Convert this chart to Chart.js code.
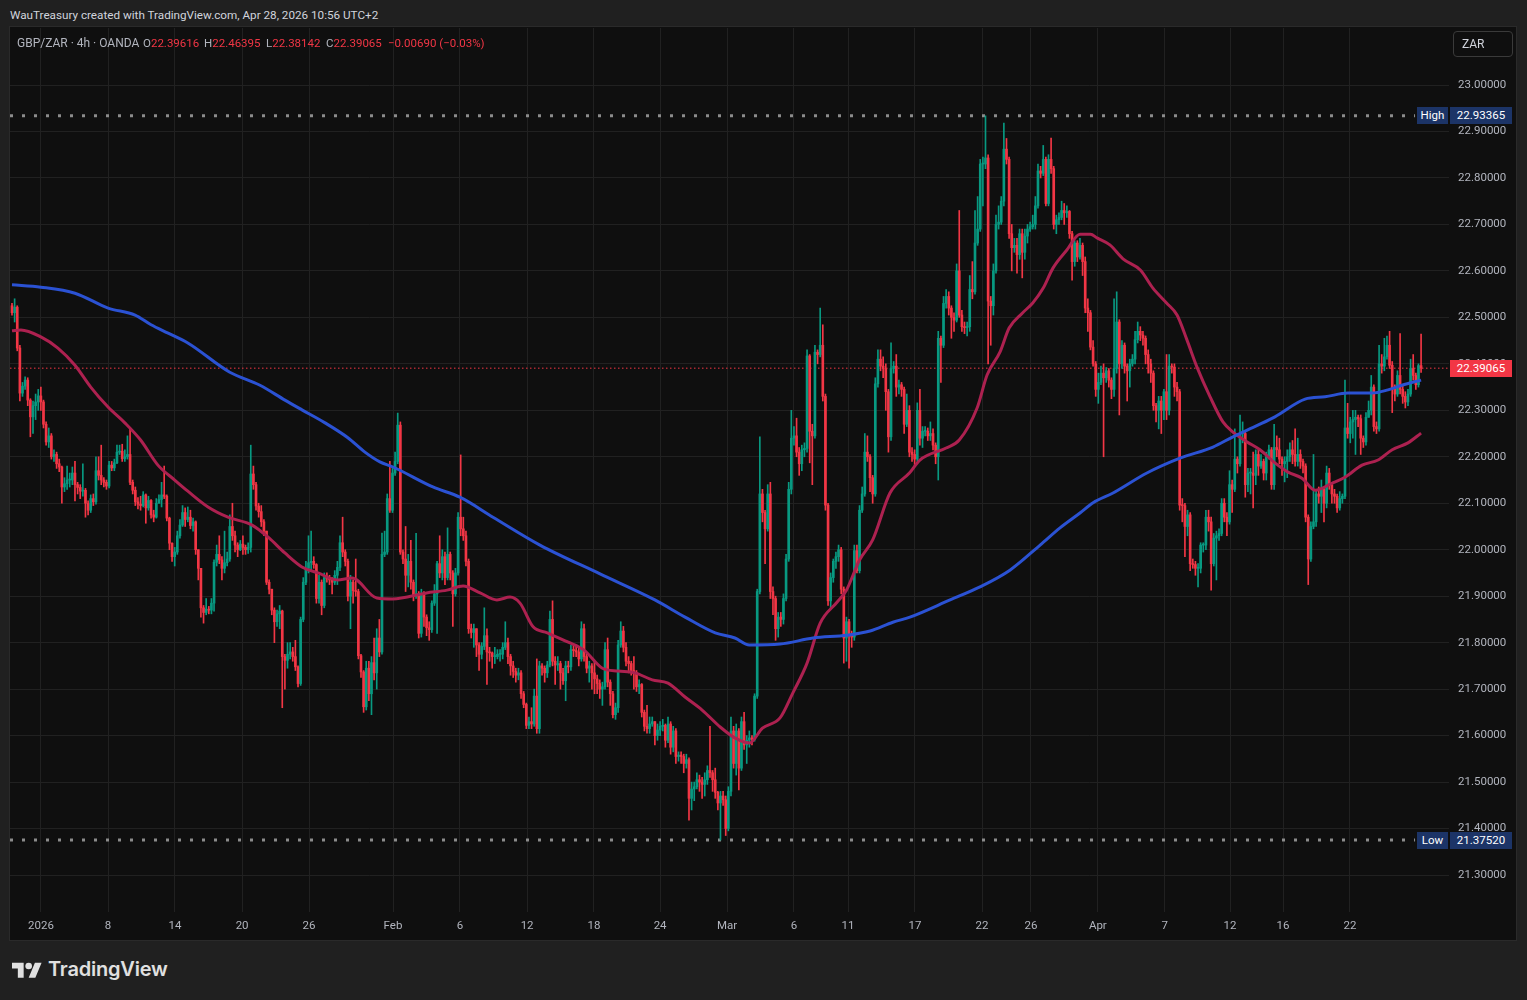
<!DOCTYPE html>
<html>
<head>
<meta charset="utf-8">
<title>GBP/ZAR 4h</title>
<script src="https://cdn.jsdelivr.net/npm/chart.js@4.4.1/dist/chart.umd.min.js"></script>
<style>
  html, body { margin: 0; padding: 0; }
  body { width: 1527px; height: 1000px; background: #202020; position: relative; overflow: hidden;
         font-family: Roboto, "Noto Sans", sans-serif; }
  #credit { position: absolute; left: 10px; top: 7px; font-size: 11.7px; line-height: 16px; color: #d1d4dc; white-space: nowrap; }
  #panel { position: absolute; left: 10px; top: 27px; width: 1506px; height: 913px; background: #0f0f0f; box-shadow: 0 0 0 1px #2a2a2a; }
  #chart { position: absolute; left: 0; top: 0; }
  .lg { position: absolute; top: 8px; font-size: 11.5px; line-height: 16px; color: #b2b5be; white-space: nowrap; }
  .lg span { color: #f23645; }
  #zar { position: absolute; left: 1443px; top: 4px; width: 60px; height: 26px; box-sizing: border-box;
         border: 1px solid #3a3a3a; border-radius: 4px; color: #d1d4dc; font-size: 12px; line-height: 24px; padding-left: 8px; }
  .tag { position: absolute; height: 17px; line-height: 17px; font-size: 11.5px; color: #ffffff; text-align: center; }
  .blue { background: #1c3467; }
  .red { background: #f23645; }
  #logo { position: absolute; left: 12px; top: 959px; }
  #brand { position: absolute; left: 48px; top: 957px; font-family: Inter, sans-serif; font-weight: 600; font-size: 20px;
           line-height: 24px; color: #e0e0e0; letter-spacing: -0.2px; }
</style>
</head>
<body>
<div id="credit">WauTreasury created with TradingView.com, Apr 28, 2026 10:56 UTC+2</div>
<div id="panel">
  <canvas id="chart" width="1506" height="913"></canvas>
  <div class="lg" style="left:7px;font-size:12px">GBP/ZAR · 4h · OANDA</div>
  <div class="lg" style="left:133px">O<span>22.39616</span></div>
  <div class="lg" style="left:194px">H<span>22.46395</span></div>
  <div class="lg" style="left:256px">L<span>22.38142</span></div>
  <div class="lg" style="left:316px">C<span>22.39065</span></div>
  <div class="lg" style="left:378px"><span>−0.00690 (−0.03%)</span></div>
  <div id="zar">ZAR</div>
  <div class="tag blue" id="hiName" style="left:1407px;width:31px">High</div>
  <div class="tag blue" id="hiVal" style="left:1440px;width:62px"></div>
  <div class="tag blue" id="loName" style="left:1407px;width:31px">Low</div>
  <div class="tag blue" id="loVal" style="left:1440px;width:62px"></div>
  <div class="tag red" id="lastVal" style="left:1440px;width:62px"></div>
</div>
<svg id="logo" width="30" height="24" viewBox="0 0 36 28"><path fill="#e0e0e0" d="M14 22H7V11H0V4h14v18zM28 22h-8l7.5-18h8L28 22z"/><circle fill="#e0e0e0" cx="20" cy="8" r="4"/></svg>
<div id="brand">TradingView</div>

<script>
// 4h candles, Dec 31 2025 -> Apr 28 2026
var firstOpen = 22.525;
var closes = [
22.510,22.522,22.434,22.337,22.352,22.365,22.322,22.286,22.310,22.318,
22.331,22.318,22.270,22.232,22.245,22.200,22.205,22.185,22.178,22.135,22.142,
22.150,22.150,22.165,22.140,22.134,22.126,22.128,22.100,22.085,22.110,
22.103,22.170,22.160,22.150,22.145,22.137,22.182,22.176,22.187,22.210,
22.212,22.196,22.200,22.205,22.145,22.128,22.103,22.098,22.095,22.118,22.090,
22.106,22.075,22.070,22.100,22.108,22.118,22.115,22.068,22.014,21.985,
21.995,22.030,22.053,22.080,22.065,22.070,22.052,22.060,22.000,21.960,
21.875,21.865,21.872,21.870,21.885,21.973,21.990,21.978,21.960,21.972,21.980,
22.050,22.030,22.010,22.000,22.012,22.005,22.000,22.005,22.163,22.140,22.094,
22.082,22.060,22.040,21.930,21.915,21.870,21.845,21.862,21.868,21.770,
21.762,21.775,21.780,21.770,21.748,21.712,21.850,21.930,21.960,21.972,21.975,
21.968,21.895,21.930,21.880,21.940,21.938,21.935,21.930,21.945,21.962,22.015,
21.995,21.975,21.900,21.930,21.912,21.910,21.772,21.737,21.662,21.745,
21.690,21.757,21.735,21.810,21.780,21.990,21.995,22.110,22.085,22.165,
22.190,22.268,21.995,21.980,21.945,21.975,21.930,21.900,
21.905,21.820,21.905,21.855,21.832,21.828,21.885,21.905,21.970,
21.950,21.985,21.940,21.990,21.950,21.905,21.950,22.070,22.045,22.030,
21.975,21.830,21.822,21.830,21.795,21.775,21.792,21.815,21.780,21.778,
21.770,21.770,21.775,21.775,21.790,21.800,21.770,21.750,21.738,21.730,
21.735,21.690,21.667,21.622,21.630,21.625,21.685,21.615,21.750,21.745,
21.735,21.752,21.850,21.760,21.752,21.755,21.735,21.718,21.750,21.748,
21.785,21.783,21.780,21.765,21.830,21.770,21.745,21.750,21.735,21.722,
21.712,21.700,21.705,21.785,21.715,21.690,21.645,21.660,21.795,21.825,
21.790,21.760,21.755,21.740,21.735,21.705,21.710,21.650,21.620,21.615,
21.625,21.630,21.600,21.612,21.620,21.622,21.590,21.625,21.575,21.610,
21.555,21.558,21.555,21.540,21.548,21.465,21.485,21.490,21.505,21.500,
21.495,21.505,21.525,21.520,21.505,21.478,21.455,21.470,21.462,21.400,
21.480,21.610,21.540,21.610,21.530,21.630,21.580,21.590,21.595,21.592,
21.685,21.910,22.120,22.080,22.045,22.120,21.910,21.895,21.830,21.855,
21.850,21.895,21.980,22.130,22.240,22.245,22.210,22.185,22.215,22.218,
22.417,22.255,22.245,22.425,22.420,22.440,22.330,22.096,21.890,21.940,
21.975,21.985,22.000,21.915,21.810,21.845,21.815,21.812,21.998,21.955,
22.085,22.120,22.210,22.200,22.155,22.120,22.357,22.410,22.395,22.390,
22.340,22.243,22.390,22.395,22.350,22.355,22.345,22.270,22.300,22.210,
22.205,22.195,22.300,22.240,22.255,22.255,22.245,22.250,22.225,22.200,22.455,
22.440,22.530,22.545,22.520,22.500,22.494,22.600,22.505,22.480,22.478,
22.480,22.560,22.555,22.660,22.690,22.830,22.830,22.843,22.535,22.525,
22.600,22.700,22.705,22.750,22.862,22.840,22.680,22.650,22.655,22.635,
22.680,22.640,22.675,22.690,22.695,22.700,22.740,22.815,22.810,22.840,
22.745,22.840,22.820,22.700,22.710,22.715,22.730,22.725,22.728,22.680,
22.620,22.660,22.630,22.655,22.620,22.520,22.510,22.436,22.400,22.345,
22.360,22.380,22.370,22.385,22.365,22.345,22.390,22.490,22.400,
22.440,22.395,22.385,22.400,22.410,22.452,22.470,22.462,22.455,
22.420,22.400,22.380,22.310,22.300,22.320,22.300,22.340,22.300,
22.395,22.393,22.350,22.340,22.096,22.095,22.050,22.075,21.970,21.968,
21.960,21.960,22.010,22.010,22.070,22.060,21.970,22.025,22.030,22.035,
22.100,22.070,22.060,22.140,22.130,22.195,22.185,22.250,22.250,22.140,
22.165,22.165,22.160,22.205,22.180,22.190,22.165,22.200,22.215,
22.140,22.220,22.215,22.195,22.185,22.190,22.200,22.215,22.205,22.190,
22.205,22.190,22.180,22.070,21.980,22.050,22.060,22.120,22.115,22.130,
22.100,22.165,22.140,22.120,22.115,22.090,22.110,22.115,22.262,22.250,
22.275,22.280,22.285,22.282,22.240,22.232,22.285,22.300,22.350,22.265,
22.260,22.400,22.395,22.415,22.440,22.397,22.345,22.335,22.375,22.345,
22.330,22.318,22.335,22.390,22.375,22.355,22.39616,22.39065
];
var highs = [
22.530,22.540,22.525,22.440,22.360,22.372,22.370,22.325,22.320,22.335,
22.345,22.350,22.322,22.275,22.262,22.250,22.215,22.210,22.195,22.180,22.155,
22.180,22.165,22.178,22.190,22.145,22.140,22.185,22.132,22.105,22.118,
22.120,22.200,22.200,22.225,22.155,22.150,22.190,22.190,22.195,22.225,
22.225,22.227,22.215,22.245,22.260,22.150,22.135,22.112,22.115,22.125,22.120,
22.115,22.108,22.085,22.110,22.118,22.145,22.180,22.118,22.070,22.015,
22.005,22.040,22.065,22.095,22.090,22.092,22.085,22.068,22.062,22.000,
21.960,21.880,21.895,21.878,21.895,21.978,22.010,22.030,21.985,22.040,21.995,
22.075,22.100,22.040,22.015,22.020,22.030,22.010,22.015,22.225,22.180,22.145,
22.100,22.095,22.065,22.040,21.935,21.915,21.875,21.870,21.880,21.870,
21.775,21.800,21.800,21.790,21.805,21.750,21.855,21.940,21.975,22.030,22.040,
21.985,21.970,21.945,21.935,21.950,21.950,21.945,21.940,21.955,21.975,22.030,
22.070,22.000,21.980,21.945,21.935,21.980,21.915,21.775,21.740,21.760,
21.760,21.770,21.810,21.830,21.850,22.036,22.040,22.120,22.190,22.175,
22.210,22.294,22.275,22.000,22.050,21.990,22.020,21.935,
22.035,21.910,21.915,21.910,21.860,21.845,21.890,21.925,21.975,
22.030,22.000,21.995,22.047,21.995,21.955,21.960,22.080,22.204,22.070,
22.040,21.980,21.840,21.840,21.830,21.800,21.800,21.875,21.830,21.790,
21.780,21.790,21.785,21.785,21.800,21.845,21.810,21.775,21.760,21.745,
21.745,21.740,21.695,21.670,21.640,21.660,21.700,21.765,21.760,21.755,
21.750,21.760,21.868,21.890,21.770,21.770,21.760,21.745,21.760,21.760,
21.795,21.795,21.792,21.790,21.845,21.840,21.775,21.760,21.755,21.760,
21.730,21.720,21.715,21.800,21.810,21.720,21.695,21.670,21.805,21.845,
21.835,21.800,21.770,21.760,21.770,21.740,21.720,21.712,21.655,21.665,
21.640,21.640,21.630,21.625,21.630,21.635,21.625,21.640,21.630,21.620,
21.615,21.565,21.565,21.560,21.560,21.552,21.500,21.500,21.520,21.515,
21.510,21.520,21.535,21.620,21.525,21.530,21.480,21.480,21.480,21.470,
21.490,21.640,21.620,21.625,21.615,21.640,21.650,21.600,21.610,21.600,
21.690,21.915,22.243,22.130,22.085,22.140,22.145,21.920,21.900,21.865,
21.865,21.905,21.990,22.145,22.300,22.265,22.283,22.220,22.225,22.230,
22.430,22.420,22.270,22.440,22.430,22.520,22.484,22.335,22.100,21.950,
21.980,21.995,22.010,22.005,21.920,21.855,21.850,21.825,22.010,22.010,
22.095,22.135,22.250,22.245,22.205,22.160,22.370,22.430,22.430,22.415,
22.400,22.345,22.445,22.405,22.420,22.365,22.360,22.350,22.335,22.310,
22.220,22.215,22.316,22.345,22.265,22.265,22.262,22.275,22.260,22.230,22.470,
22.460,22.545,22.560,22.555,22.525,22.510,22.615,22.730,22.515,22.490,
22.490,22.590,22.620,22.730,22.760,22.840,22.845,22.93365,22.850,22.545,
22.615,22.720,22.740,22.760,22.918,22.885,22.845,22.700,22.670,22.670,
22.690,22.690,22.690,22.700,22.705,22.720,22.760,22.830,22.825,22.870,
22.845,22.850,22.886,22.825,22.720,22.725,22.750,22.745,22.740,22.730,
22.685,22.665,22.665,22.670,22.660,22.630,22.540,22.515,22.450,22.405,
22.380,22.395,22.400,22.392,22.390,22.370,22.540,22.555,22.495,
22.450,22.445,22.400,22.410,22.420,22.470,22.490,22.480,22.470,
22.460,22.430,22.410,22.385,22.315,22.330,22.330,22.345,22.420,
22.420,22.400,22.400,22.360,22.345,22.110,22.100,22.085,22.080,21.980,
21.975,21.970,22.015,22.015,22.085,22.085,22.070,22.035,22.040,22.045,
22.110,22.110,22.080,22.170,22.150,22.260,22.200,22.290,22.275,22.255,
22.175,22.175,22.210,22.215,22.215,22.205,22.195,22.210,22.225,
22.220,22.270,22.245,22.240,22.200,22.200,22.215,22.230,22.235,22.260,
22.240,22.215,22.195,22.185,22.075,22.060,22.205,22.130,22.135,22.150,
22.135,22.180,22.175,22.145,22.130,22.120,22.125,22.120,22.365,22.315,
22.285,22.300,22.300,22.290,22.290,22.245,22.295,22.320,22.375,22.355,
22.275,22.440,22.420,22.455,22.460,22.470,22.405,22.355,22.385,22.465,
22.355,22.340,22.345,22.410,22.420,22.380,22.400,22.46395
];
var lows = [
22.505,22.490,22.428,22.320,22.330,22.345,22.310,22.243,22.250,22.280,
22.300,22.300,22.262,22.225,22.220,22.195,22.190,22.175,22.168,22.100,22.125,
22.130,22.135,22.140,22.105,22.120,22.110,22.115,22.070,22.075,22.080,
22.095,22.098,22.150,22.140,22.135,22.130,22.133,22.170,22.170,22.185,
22.205,22.190,22.190,22.195,22.140,22.120,22.095,22.088,22.085,22.092,22.057,
22.085,22.068,22.060,22.068,22.100,22.092,22.110,22.062,22.000,21.975,
21.965,21.990,22.025,22.050,22.050,22.060,22.045,22.040,21.990,21.935,
21.855,21.842,21.860,21.862,21.862,21.868,21.965,21.970,21.935,21.950,21.965,
21.975,22.020,21.995,21.985,21.998,21.990,21.990,21.992,21.995,22.130,22.085,
22.070,22.050,22.030,21.925,21.905,21.860,21.800,21.835,21.830,21.660,
21.700,21.745,21.765,21.760,21.740,21.705,21.708,21.845,21.925,21.950,21.955,
21.960,21.885,21.885,21.860,21.875,21.930,21.925,21.905,21.925,21.925,21.955,
21.985,21.965,21.890,21.830,21.885,21.900,21.765,21.725,21.650,21.655,
21.675,21.645,21.720,21.700,21.770,21.775,21.985,21.990,22.080,22.080,
22.160,22.185,21.990,21.970,21.910,21.920,21.915,21.890,
21.895,21.810,21.812,21.835,21.815,21.805,21.822,21.880,21.820,
21.940,21.935,21.925,21.935,21.935,21.835,21.900,21.945,22.030,22.020,
21.965,21.820,21.810,21.790,21.770,21.740,21.765,21.785,21.710,21.760,
21.745,21.755,21.765,21.760,21.765,21.785,21.755,21.730,21.725,21.715,
21.720,21.680,21.660,21.615,21.615,21.615,21.620,21.605,21.605,21.730,
21.715,21.725,21.748,21.750,21.710,21.740,21.700,21.710,21.675,21.735,
21.740,21.770,21.770,21.750,21.760,21.760,21.735,21.715,21.700,21.690,
21.690,21.680,21.665,21.700,21.705,21.665,21.638,21.635,21.650,21.790,
21.780,21.750,21.735,21.730,21.700,21.695,21.690,21.640,21.610,21.605,
21.605,21.620,21.580,21.590,21.600,21.610,21.575,21.585,21.560,21.565,
21.540,21.545,21.540,21.520,21.530,21.418,21.440,21.460,21.485,21.480,
21.465,21.470,21.495,21.510,21.480,21.465,21.440,21.3752,21.450,21.385,
21.395,21.470,21.530,21.515,21.483,21.525,21.570,21.540,21.575,21.580,
21.588,21.680,21.905,22.060,21.970,22.040,21.895,21.860,21.805,21.812,
21.835,21.840,21.890,21.975,22.120,22.225,22.200,22.160,22.170,22.200,
22.210,22.187,22.140,22.240,22.400,22.415,22.320,22.085,21.880,21.875,
21.930,21.960,21.975,21.905,21.756,21.760,21.745,21.790,21.805,21.950,
21.950,22.080,22.115,22.190,22.125,22.100,22.115,22.350,22.385,22.370,
22.300,22.210,22.235,22.380,22.330,22.335,22.330,22.250,22.265,22.200,
22.190,22.180,22.190,22.225,22.220,22.245,22.235,22.235,22.215,22.185,22.150,
22.360,22.435,22.520,22.505,22.455,22.470,22.490,22.500,22.470,22.465,
22.460,22.470,22.540,22.550,22.655,22.685,22.740,22.820,22.400,22.440,
22.505,22.595,22.690,22.700,22.740,22.830,22.670,22.600,22.640,22.595,
22.625,22.585,22.625,22.660,22.685,22.690,22.690,22.735,22.800,22.805,
22.740,22.740,22.810,22.690,22.680,22.700,22.710,22.700,22.715,22.670,
22.580,22.610,22.620,22.625,22.590,22.510,22.470,22.430,22.395,22.330,
22.315,22.355,22.200,22.360,22.350,22.325,22.330,22.380,22.290,
22.390,22.380,22.320,22.350,22.395,22.400,22.445,22.450,22.440,
22.400,22.380,22.360,22.300,22.275,22.260,22.250,22.280,22.280,
22.290,22.380,22.330,22.320,22.085,22.060,21.985,22.030,21.955,21.960,
21.945,21.920,21.950,21.995,22.000,22.040,21.913,21.965,21.935,22.020,
22.030,22.060,22.030,22.055,22.080,22.125,22.165,22.180,22.230,22.113,
22.125,22.120,22.090,22.140,22.160,22.175,22.150,22.150,22.195,
22.130,22.130,22.200,22.185,22.160,22.146,22.155,22.190,22.185,22.180,
22.180,22.175,22.165,22.060,21.925,21.975,22.045,22.050,22.100,22.080,
22.060,22.090,22.130,22.100,22.100,22.080,22.085,22.100,22.110,22.240,
22.230,22.240,22.205,22.265,22.205,22.220,22.225,22.285,22.290,22.255,
22.250,22.255,22.380,22.385,22.410,22.390,22.295,22.320,22.330,22.335,
22.315,22.305,22.310,22.330,22.365,22.345,22.350,22.38142
];

// moving averages, sampled along the drawn curves (candle index -> price)
var ma200Idx = [0,11,24,36.6,46.9,53,59.5,67,83,94.5,104,110.5,119.3,128,134.5,140.2,145.2,160.4,170.7,183.3,
  201.2,224.1,245,256.5,268,275.5,281,292.7,305.3,318.2,327,335.7,342.2,357.5,368.9,380.3,391.8,399.4,407,412,
  419.6,432.5,445.1,457.7,465.3,474.8,481.3,492.8,500.4,509.1,518.3,524.4,529.7,537];
var ma200Val = [22.570,22.565,22.552,22.520,22.505,22.484,22.466,22.445,22.382,22.354,22.322,22.301,22.273,22.241,22.210,22.189,22.178,22.135,22.113,22.070,
  22.010,21.948,21.892,21.855,21.821,21.810,21.795,21.797,21.810,21.816,21.825,21.844,21.855,21.892,21.920,21.956,22.010,22.047,22.079,22.101,
  22.122,22.165,22.197,22.221,22.243,22.268,22.286,22.324,22.329,22.337,22.337,22.344,22.354,22.365];
var ma50Idx = [0,3.4,11,17.5,24,30,36.6,43,49,55.6,62,67,74.7,82.3,91.5,97.6,104,110.5,116.6,124,
  129.6,139,145,158,165.8,171.9,178.4,184.8,189.8,193.6,198.6,204,212,218,225,231,237.4,244,250,256.5,
  263,270,275.5,281,286,292.7,297.6,303,308,314.4,318,323,328,334.6,342,346,356,361,367.8,371.6,
  376.5,380,385,389,393,396.7,402,407,411,413.5,418.4,423.4,430,434.8,440,444,447.8,451.6,456.6,461.5,
  465.3,470.7,475.6,481.3,486.3,491.6,496.6,503,508,514.5,520.6,526,532,537];
var ma50Val = [22.471,22.473,22.458,22.434,22.397,22.350,22.307,22.273,22.236,22.182,22.150,22.126,22.092,22.070,22.053,22.027,21.993,21.963,21.950,21.935,
  21.939,21.896,21.894,21.907,21.913,21.922,21.907,21.892,21.898,21.885,21.834,21.821,21.801,21.784,21.745,21.739,21.735,21.720,21.713,21.683,
  21.655,21.618,21.595,21.584,21.616,21.638,21.692,21.756,21.842,21.887,21.913,21.978,22.021,22.122,22.165,22.193,22.219,22.236,22.305,22.376,
  22.425,22.477,22.509,22.531,22.563,22.606,22.645,22.679,22.679,22.671,22.656,22.626,22.602,22.563,22.531,22.505,22.451,22.393,22.329,22.275,
  22.253,22.232,22.215,22.187,22.167,22.154,22.128,22.143,22.156,22.182,22.193,22.215,22.230,22.251];

// date axis
var dateIdx = [11.05,36.6,62.1,87.7,113.2,145.2,170.7,196.3,221.8,247,272.5,298,318.6,344.1,369.7,388.3,413.8,439.3,464.2,484.4,509.9];
var dateText = ['2026','8','14','20','26','Feb','6','12','18','24','Mar','6','11','17','22','26','Apr','7','12','16','22'];
// price axis
var priceTicks = [21.3,21.4,21.5,21.6,21.7,21.8,21.9,22.0,22.1,22.2,22.3,22.4,22.5,22.6,22.7,22.8,22.9,23.0];

var X_MIN = -0.762, X_MAX = 547.64, Y_MIN = 21.2204, Y_MAX = 23.1227;
var UP = '#089981', DOWN = '#f23645';

var opens = closes.map(function (c, i) { return i === 0 ? firstOpen : closes[i - 1]; });
var colors = closes.map(function (c, i) { return c >= opens[i] ? UP : DOWN; });
var bodies = closes.map(function (c, i) { return { x: i, y: [opens[i], c] }; });
var wicks = closes.map(function (c, i) {
  return { x: i, y: [Math.min(lows[i], opens[i], c), Math.max(highs[i], opens[i], c)] };
});
var hiVal = Math.max.apply(null, highs);
var loVal = Math.min.apply(null, lows);
var lastClose = closes[closes.length - 1];
var hiloEnd = 534.7;

var ma200 = ma200Idx.map(function (x, i) { return { x: x, y: ma200Val[i] }; });
var ma50 = ma50Idx.map(function (x, i) { return { x: x, y: ma50Val[i] }; });

var chart = new Chart(document.getElementById('chart').getContext('2d'), {
  type: 'bar',
  data: {
    datasets: [
      { type: 'line', data: ma200, borderColor: '#2b52d3', borderWidth: 3, pointRadius: 0,
        cubicInterpolationMode: 'monotone', order: 0 },
      { type: 'line', data: ma50, borderColor: '#ad2150', borderWidth: 3, pointRadius: 0,
        cubicInterpolationMode: 'monotone', order: 0 },
      { data: bodies, backgroundColor: colors, barThickness: 2, minBarLength: 1, grouped: false, order: 1 },
      { data: wicks, backgroundColor: colors, barThickness: 1, grouped: false, order: 2 },
      { type: 'line', data: [{ x: X_MIN, y: hiVal }, { x: hiloEnd, y: hiVal }], borderColor: '#8c8c8c',
        borderWidth: 3, borderDash: [3, 9], pointRadius: 0, order: 3 },
      { type: 'line', data: [{ x: X_MIN, y: loVal }, { x: hiloEnd, y: loVal }], borderColor: '#8c8c8c',
        borderWidth: 3, borderDash: [3, 9], pointRadius: 0, order: 3 },
      { type: 'line', data: [{ x: X_MIN, y: lastClose }, { x: X_MAX, y: lastClose }], borderColor: '#f23645',
        borderWidth: 1, borderDash: [1.5, 2.5], pointRadius: 0, order: 3 }
    ]
  },
  options: {
    responsive: false,
    animation: false,
    events: [],
    layout: { padding: { top: 1, left: 0, right: 0, bottom: 0 } },
    plugins: { legend: { display: false }, tooltip: { enabled: false } },
    scales: {
      x: {
        type: 'linear', min: X_MIN, max: X_MAX, offset: false,
        afterBuildTicks: function (s) { s.ticks = dateIdx.map(function (v) { return { value: v }; }); },
        afterFit: function (s) { s.height = 28; s.paddingLeft = 0; s.paddingRight = 0; },
        ticks: {
          autoSkip: false, maxRotation: 0, padding: 7, color: '#b2b5be',
          font: { family: 'Roboto', size: 11.5 },
          callback: function (v) { var k = dateIdx.indexOf(v); return k < 0 ? '' : dateText[k]; }
        },
        grid: { color: '#212121', drawTicks: false, offset: false },
        border: { display: false }
      },
      y: {
        position: 'right', min: Y_MIN, max: Y_MAX,
        afterBuildTicks: function (s) { s.ticks = priceTicks.map(function (v) { return { value: v }; }); },
        afterFit: function (s) { s.width = 67; s.paddingTop = 0; s.paddingBottom = 0; },
        ticks: {
          padding: 9, color: '#b2b5be', font: { family: 'Roboto', size: 11.5 },
          callback: function (v) { return Number(v).toFixed(5); }
        },
        grid: { color: '#212121', drawTicks: false },
        border: { display: false }
      }
    }
  }
});

// price tags on the right axis
var ys = chart.scales.y;
function tag(id, v, text) {
  var el = document.getElementById(id);
  el.style.top = (ys.getPixelForValue(v) - 8.5) + 'px';
  if (text) el.textContent = text;
}
tag('hiName', hiVal); tag('hiVal', hiVal, hiVal.toFixed(5));
tag('loName', loVal); tag('loVal', loVal, loVal.toFixed(5));
tag('lastVal', lastClose, lastClose.toFixed(5));
</script>
</body>
</html>
